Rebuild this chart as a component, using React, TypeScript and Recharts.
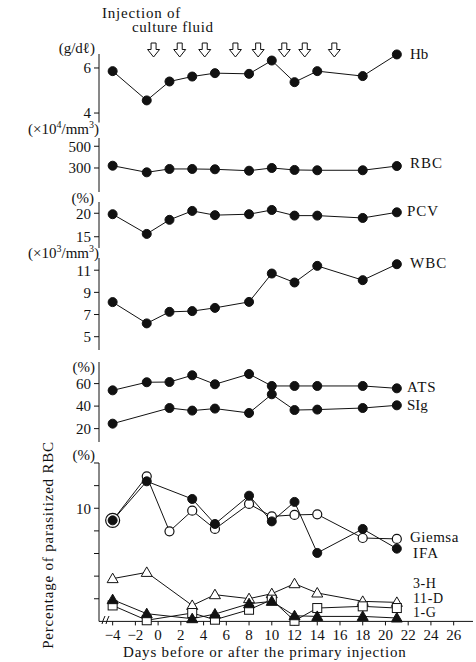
import React from 'react'
import { LineChart, Line, XAxis, YAxis, ScatterChart, Scatter } from 'recharts'

// sampling days (days relative to the primary injection)
const days = [-4, -1, 1, 3, 5, 8, 10, 12, 14, 18, 21]
const injectionDays = [-0.4, 1.9, 4.1, 6.8, 8.8, 11.1, 12.9, 15.5]
const dayTicks = [-4, -2, 0, 2, 4, 6, 8, 10, 12, 14, 16, 18, 20, 22, 24, 26]

const hb = [5.86, 4.56, 5.4, 5.62, 5.77, 5.74, 6.33, 5.37, 5.86, 5.64, 6.6]
const rbc = [321, 260, 291, 291, 288, 275, 300, 282, 279, 279, 318]
const pcv = [19.8, 15.6, 18.6, 20.5, 19.6, 19.8, 20.7, 19.5, 19.5, 19.0, 20.2]
const wbc = [8.12, 6.2, 7.24, 7.31, 7.6, 8.14, 10.7, 9.89, 11.39, 10.1, 11.54]
const ats = [54.0, 61.2, 61.4, 67.4, 59.4, 68.5, 57.9, 57.9, 57.9, 57.9, 55.8]
const sig = [24.4, null, 38.3, 36.0, 37.8, 33.9, 50.5, 36.5, 36.9, 38.3, 40.7]
const giemsa = [8.93, 12.82, 7.96, 9.79, 8.17, 10.38, 9.28, 9.41, 9.46, 7.37, 7.29]
const ifa = [8.93, 12.38, null, 10.82, 8.61, 11.11, 8.84, 10.56, 6.05, 8.17, 6.43]
const h3 = [3.78, 4.33, null, 1.41, 2.36, 2.01, 2.45, 3.33, 2.51, 1.77, 1.68]
const d11 = [1.41, 0.1, null, 0.74, 0.15, 1.03, 1.92, 0.05, 1.18, 1.33, 1.18]
const g1 = [1.92, 0.68, null, 0.24, 0.65, 1.56, 1.77, 0.5, 0.44, 0.44, 0.3]

const rows = days.map((day, i) => ({
  day,
  hb: hb[i],
  rbc: rbc[i],
  pcv: pcv[i],
  wbc: wbc[i],
  ats: ats[i],
  sig: sig[i],
  giemsa: giemsa[i],
  ifa: ifa[i],
  h3: h3[i],
  d11: d11[i],
  g1: g1[i],
}))
const injectionRows = injectionDays.map((day) => ({ day, y: 0 }))

const INK = '#111'
const FONT = '"Liberation Serif", "DejaVu Serif", serif'
const X_DOMAIN = [-5.2, 27.7]
const PAD = 10

const filledDot = { r: 4.5, fill: INK, stroke: INK, strokeWidth: 1 }

const openCircle = (props: any) => {
  const { cx, cy, index } = props
  if (cy == null || cx == null) return <g key={index} />
  // first point overlaps the IFA point, drawn as a bigger ring
  const r = index === 0 ? 7 : 4.5
  return <circle key={index} cx={cx} cy={cy} r={r} fill="#fff" stroke={INK} strokeWidth={1.2} />
}

const triangle = (filled: boolean) => (props: any) => {
  const { cx, cy, index } = props
  if (cy == null || cx == null) return <g key={index} />
  return (
    <path
      key={index}
      d={`M${cx},${cy - 5.5} L${cx + 5.5},${cy + 4} L${cx - 5.5},${cy + 4} Z`}
      fill={filled ? INK : '#fff'}
      stroke={INK}
      strokeWidth={1}
    />
  )
}

const square = (props: any) => {
  const { cx, cy, index } = props
  if (cy == null || cx == null) return <g key={index} />
  return <rect key={index} x={cx - 4.5} y={cy - 4.5} width={9} height={9} fill="#fff" stroke={INK} strokeWidth={1} />
}

const arrow = (props: any) => {
  const { cx, cy } = props
  return (
    <path
      d={`M${cx - 2.5},${cy - 7} L${cx + 2.5},${cy - 7} L${cx + 2.5},${cy - 0.5} L${cx + 6},${cy - 0.5} L${cx},${cy + 7} L${cx - 6},${cy - 0.5} L${cx - 2.5},${cy - 0.5} Z`}
      fill="#fff"
      stroke={INK}
      strokeWidth={1}
    />
  )
}

const tickStyle = { fill: INK, fontSize: 15, fontFamily: FONT }

function line(key: string, dot: any) {
  return (
    <Line
      key={key}
      type="linear"
      dataKey={key}
      stroke={INK}
      strokeWidth={1}
      dot={dot}
      activeDot={false}
      connectNulls
      isAnimationActive={false}
    />
  )
}

type PanelProps = {
  top: number
  bottom: number
  domain: number[]
  ticks: number[]
  tickFormatter?: (v: number) => string
  showX?: boolean
  children: React.ReactNode
}

function Panel({ top, bottom, domain, ticks, tickFormatter, showX, children }: PanelProps) {
  const xHeight = showX ? 40 : 0
  const height = bottom - top + PAD + (showX ? xHeight : PAD)
  return (
    <div style={{ position: 'absolute', left: 0, top: top - PAD }}>
      <LineChart
        width={476}
        height={height}
        data={rows}
        margin={{ top: PAD, right: 3, bottom: showX ? 0 : PAD, left: 0 }}
      >
        <XAxis
          type="number"
          dataKey="day"
          domain={X_DOMAIN}
          ticks={dayTicks}
          interval={0}
          hide={!showX}
          height={xHeight}
          tickSize={4}
          tickMargin={4}
          axisLine={{ stroke: INK }}
          tickLine={{ stroke: INK }}
          tick={tickStyle}
          tickFormatter={(v: number) => String(v).replace('-', '\u2212')}
        />
        <YAxis
          type="number"
          width={99}
          domain={domain}
          ticks={ticks}
          interval={0}
          tickSize={5}
          tickMargin={3}
          axisLine={{ stroke: INK }}
          tickLine={{ stroke: INK }}
          tick={tickStyle}
          tickFormatter={tickFormatter}
        />
        {children}
      </LineChart>
    </div>
  )
}

const textBase: React.CSSProperties = {
  position: 'absolute',
  fontFamily: FONT,
  fontSize: 15,
  lineHeight: '14px',
  color: INK,
  whiteSpace: 'nowrap',
}

function Txt({ x, y, right, children, style }: any) {
  const pos: React.CSSProperties =
    right != null ? { right: 476 - right, top: y - 7 } : { left: x, top: y - 7 }
  return <div style={{ ...textBase, ...pos, ...style }}>{children}</div>
}

const sup = { fontSize: 10, verticalAlign: 'super', lineHeight: 0 }
const small = { fontSize: 14, lineHeight: '12px', letterSpacing: 0.6 }

export default function App() {
  return (
    <div style={{ position: 'absolute', left: 0, top: 0, width: 476, height: 662, background: '#fff', overflow: 'hidden' }}>
      <Txt x={102} y={13} style={{ letterSpacing: 0.8 }}>Injection of</Txt>
      <Txt x={132} y={27} style={{ letterSpacing: 0.6 }}>culture fluid</Txt>

      <div style={{ position: 'absolute', left: 0, top: 36 }}>
        <ScatterChart width={476} height={28} margin={{ top: 0, right: 3, bottom: 0, left: 99 }}>
          <XAxis type="number" dataKey="day" domain={X_DOMAIN} hide />
          <YAxis type="number" dataKey="y" domain={[-1, 1]} hide />
          <Scatter data={injectionRows} shape={arrow} isAnimationActive={false} />
        </ScatterChart>
      </div>

      <Panel top={53.5} bottom={122} domain={[3.58, 6.62]} ticks={[4, 6]}>
        {line('hb', filledDot)}
      </Panel>
      <Panel top={138} bottom={192} domain={[79, 576]} ticks={[300, 500]}>
        {line('rbc', filledDot)}
      </Panel>
      <Panel top={202} bottom={248} domain={[12.6, 22.4]} ticks={[15, 20]}>
        {line('pcv', filledDot)}
      </Panel>
      <Panel top={258} bottom={350} domain={[3.8, 12.1]} ticks={[5, 7, 9, 11]}>
        {line('wbc', filledDot)}
      </Panel>
      <Panel top={362} bottom={442} domain={[8.1, 79.2]} ticks={[20, 40, 60]}>
        {line('ats', filledDot)}
        {line('sig', filledDot)}
      </Panel>
      <Panel
        top={463.3}
        bottom={621.7}
        domain={[0, 14]}
        ticks={[2, 4, 6, 8, 10, 12, 14]}
        tickFormatter={(v: number) => (v === 10 ? '10' : '')}
        showX
      >
        {line('h3', triangle(false))}
        {line('d11', square)}
        {line('g1', triangle(true))}
        {line('giemsa', openCircle)}
        {line('ifa', filledDot)}
      </Panel>

      {/* axis break mark at the origin */}
      <svg style={{ position: 'absolute', left: 100, top: 614 }} width={12} height={12}>
        <path d="M2,10 Q3,6 5,2 M6,10 Q7,6 9,2" fill="none" stroke={INK} strokeWidth={1} />
      </svg>

      {/* unit labels */}
      <Txt right={95} y={48}>(g/dℓ)</Txt>
      <Txt right={99} y={129}>(×10<span style={sup}>4</span>/mm<span style={sup}>3</span>)</Txt>
      <Txt right={94} y={198}>(%)</Txt>
      <Txt right={99} y={253}>(×10<span style={sup}>3</span>/mm<span style={sup}>3</span>)</Txt>
      <Txt right={95} y={367}>(%)</Txt>
      <Txt right={95} y={455}>(%)</Txt>

      {/* series labels */}
      <Txt x={410} y={54}>Hb</Txt>
      <Txt x={410} y={163} style={{ letterSpacing: 1 }}>RBC</Txt>
      <Txt x={407} y={211} style={{ letterSpacing: 1 }}>PCV</Txt>
      <Txt x={410} y={263} style={{ letterSpacing: 1 }}>WBC</Txt>
      <Txt x={407} y={387} style={{ letterSpacing: 1 }}>ATS</Txt>
      <Txt x={407} y={405}>SIg</Txt>
      <Txt x={410} y={537} style={{ letterSpacing: 0.5 }}>Giemsa</Txt>
      <Txt x={413} y={553} style={{ letterSpacing: 1 }}>IFA</Txt>
      <Txt x={413} y={585} style={small}>3-H</Txt>
      <Txt x={413} y={600} style={small}>11-D</Txt>
      <Txt x={413} y={614} style={small}>1-G</Txt>

      <div
        style={{
          ...textBase,
          letterSpacing: 0.8,
          left: 48,
          top: 545,
          transform: 'translate(-50%, -50%) rotate(-90deg)',
        }}
      >
        Percentage of parasitized RBC
      </div>
      <Txt x={123} y={652} style={{ letterSpacing: 0.8 }}>
        Days before or after the primary injection
      </Txt>
    </div>
  )
}
